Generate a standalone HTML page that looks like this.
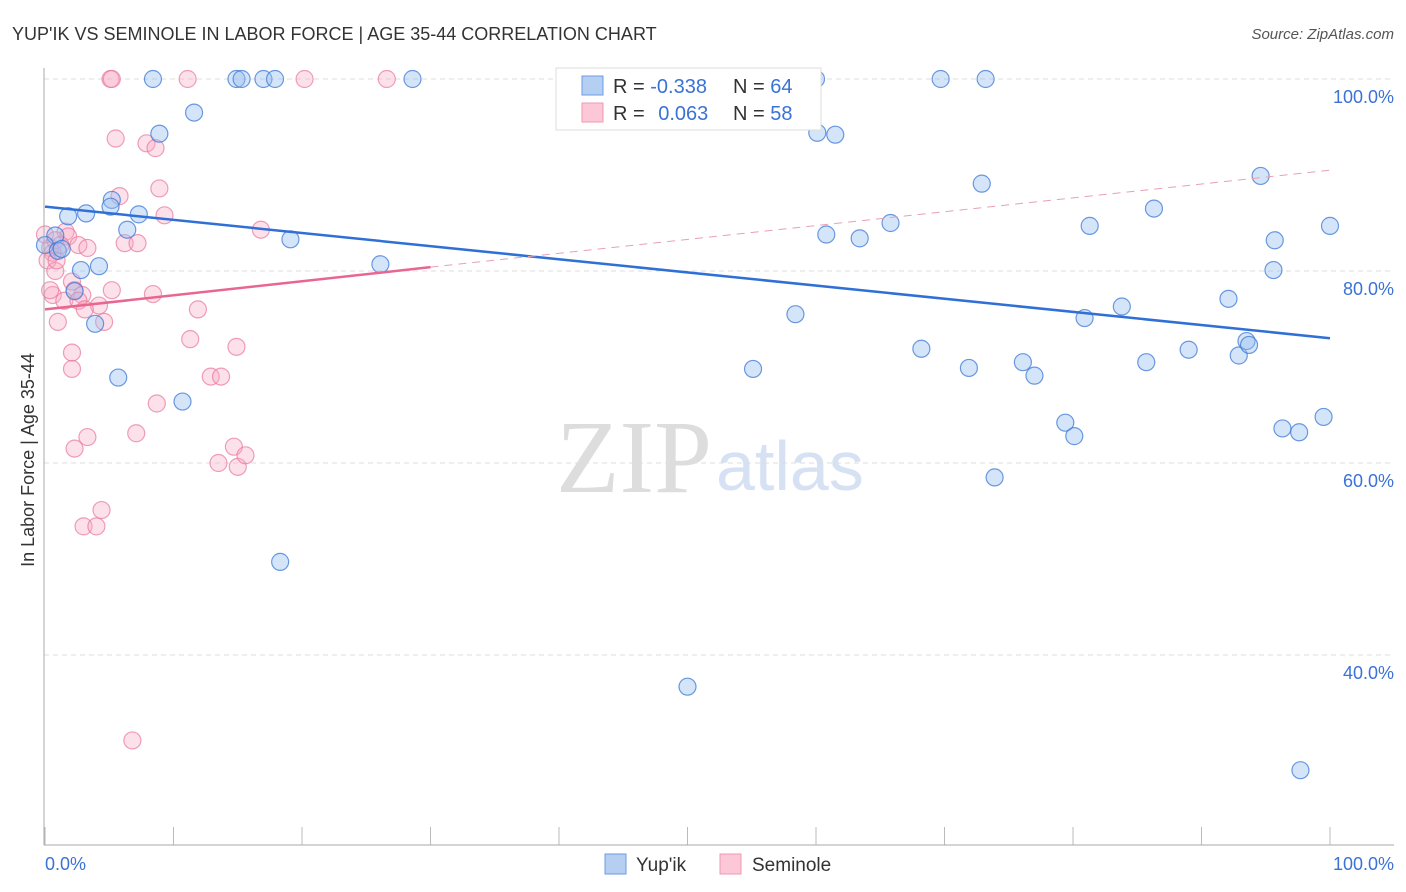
<!DOCTYPE html>
<html><head><meta charset="utf-8"><style>
body{margin:0;background:#fff;font-family:"Liberation Sans",sans-serif;}
svg{display:block}
</style></head><body>
<svg id="c" width="1406" height="892">
<text x="12" y="40" font-size="18" fill="#333">YUP'IK VS SEMINOLE IN LABOR FORCE | AGE 35-44 CORRELATION CHART</text>
<text x="1394" y="39" font-size="15" fill="#555" font-style="italic" text-anchor="end">Source: ZipAtlas.com</text>
<text x="34" y="460" font-size="18" fill="#333" text-anchor="middle" transform="rotate(-90 34 460)">In Labor Force | Age 35-44</text>
<text x="712" y="492" font-size="104" fill="#ddd" text-anchor="end" font-family="Liberation Serif">ZIP</text>
<text x="716" y="490" font-size="70" fill="#d6e2f3">atlas</text>
<g id="grid"></g><g id="pts"></g><g id="lines"></g>
<line x1="44" y1="68" x2="44" y2="845" stroke="#aaa"/>
<line x1="44" y1="845" x2="1394" y2="845" stroke="#aaa"/>
<text x="45" y="870" font-size="18" fill="#3a72d6">0.0%</text>
<text x="1394" y="870" font-size="18" fill="#3a72d6" text-anchor="end">100.0%</text>
<g>
<rect x="556" y="68" width="265" height="62" fill="#fff" stroke="#ddd"/>
<rect x="582" y="76" width="21" height="19" fill="#b5cff3" stroke="#6a9be0"/>
<rect x="582" y="103" width="21" height="19" fill="#fcc7d6" stroke="#ee9ab3"/>
<text x="613" y="93" font-size="20" fill="#333">R = <tspan fill="#3a72d6">-0.338</tspan></text>
<text x="733" y="93" font-size="20" fill="#333">N = <tspan fill="#3a72d6">64</tspan></text>
<text x="613" y="120" font-size="20" fill="#333">R = <tspan fill="#3a72d6" dx="8">0.063</tspan></text>
<text x="733" y="120" font-size="20" fill="#333">N = <tspan fill="#3a72d6">58</tspan></text>
</g>
<g>
<rect x="605" y="854" width="21" height="20" fill="#b5cff3" stroke="#6a9be0"/>
<text x="636" y="871" font-size="19" fill="#333">Yup'ik</text>
<rect x="720" y="854" width="21" height="20" fill="#fcc7d6" stroke="#ee9ab3"/>
<text x="752" y="871" font-size="19" fill="#333">Seminole</text>
</g>
</svg>
<script>
const yTicks=[100,80,60,40];
const yTickLabels=["100.0%","80.0%","60.0%","40.0%"];
const xTicks=[0,10,20,30,40,50,60,70,80,90,100];
const yupikX=[8.4,14.9,15.3,17.0,17.9,28.6,41.6,60.0,69.7,73.2,11.6,8.9,60.1,61.5,5.2,5.1,1.8,3.2,7.3,6.4,19.1,0.8,0,1.0,1.3,4.2,2.8,26.1,2.3,3.9,5.7,10.7,18.3,50.0,72.9,94.6,65.8,60.8,63.4,81.3,86.3,95.7,100,95.6,58.4,80.9,83.8,92.1,68.2,55.1,71.9,76.1,77.0,85.7,89.0,92.9,93.5,93.7,79.4,80.1,96.3,97.6,99.5,73.9,97.7];
const yupikY=[100,100,100,100,100,100,100,100,100,100,96.5,94.3,94.4,94.2,87.4,86.7,85.7,86.0,85.9,84.3,83.3,83.7,82.7,82.1,82.3,80.5,80.1,80.7,77.9,74.5,68.9,66.4,49.7,36.7,89.1,89.9,85.0,83.8,83.4,84.7,86.5,83.2,84.7,80.1,75.5,75.1,76.3,77.1,71.9,69.8,69.9,70.5,69.1,70.5,71.8,71.2,72.7,72.3,64.2,62.8,63.6,63.2,64.8,58.5,28.0];
const semX=[5.1,5.2,11.1,20.2,26.6,5.5,7.9,8.6,8.9,5.8,9.3,16.8,1.6,1.8,2.6,3.3,6.2,7.2,0.4,0.6,0.2,0.8,0.9,2.1,2.3,2.9,0.6,1.5,2.6,4.2,3.1,4.6,1.0,8.4,11.9,5.2,11.3,14.9,2.1,2.1,12.9,13.7,8.7,7.1,3.3,2.3,14.7,13.5,15.0,15.6,4.4,3.0,4.0,6.8,0,0.8,1.2,0.4];
const semY=[100,100,100,100,100,93.8,93.3,92.8,88.6,87.8,85.8,84.3,84.1,83.6,82.7,82.4,82.9,82.9,82.4,81.9,81.1,80.0,81.1,78.9,78.0,77.5,77.5,76.9,76.9,76.4,76.0,74.7,74.7,77.6,76.0,78.0,72.9,72.1,71.5,69.8,69.0,69.0,66.2,63.1,62.7,61.5,61.7,60.0,59.6,60.8,55.1,53.4,53.4,31.1,83.8,83.2,82.7,78.0];
const yupikTrend=[86.7,73.0];
const semTrendSolid=[0,76.0,30,80.4];
const semTrendDash=[100,90.5];
const X=v=>45+v*12.85, Y=v=>1039-v*9.6;
const ns="http://www.w3.org/2000/svg";
function mk(t,a,p){const e=document.createElementNS(ns,t);for(const k in a)e.setAttribute(k,a[k]);p.appendChild(e);return e;}
const g=document.getElementById('grid');
yTicks.forEach((t,i)=>{
 const l=mk('line',{x1:44,x2:1394,y1:Y(t),y2:Y(t),stroke:'#ddd','stroke-dasharray':'5,4'},g);
 
 
 const tx=mk('text',{x:1394,y:Y(t)+24,'font-size':18,fill:'#3a72d6','text-anchor':'end'},g);
 tx.textContent=yTickLabels[i];
 
 
});
xTicks.forEach(t=>{
 const l=mk('line',{x1:X(t),x2:X(t),y1:827,y2:845,stroke:'#bbb'},g);
 
 
});
const p=document.getElementById('pts');
semX.forEach((x,i)=>{
 const c=mk('circle',{cx:X(x),cy:Y(semY[i]),r:8.5,fill:'rgba(248,170,195,0.35)',stroke:'rgba(232,120,155,0.7)','stroke-width':1.2},p);
 
 
});
yupikX.forEach((x,i)=>{
 const c=mk('circle',{cx:X(x),cy:Y(yupikY[i]),r:8.5,fill:'rgba(150,190,240,0.4)',stroke:'rgba(60,120,215,0.75)','stroke-width':1.2},p);
 
 
});
const L=document.getElementById('lines');
let a=mk('line',{x1:X(0),y1:Y(yupikTrend[0]),x2:X(100),y2:Y(yupikTrend[1]),stroke:'#2f6fd6','stroke-width':2.5},L);


a=mk('line',{x1:X(semTrendSolid[0]),y1:Y(semTrendSolid[1]),x2:X(semTrendSolid[2]),y2:Y(semTrendSolid[3]),stroke:'#e8668f','stroke-width':2.5},L);


a=mk('line',{x1:X(semTrendSolid[2]),y1:Y(semTrendSolid[3]),x2:X(semTrendDash[0]),y2:Y(semTrendDash[1]),stroke:'#e8a0b5','stroke-width':1,'stroke-dasharray':'8,6'},L);


</script>
</body></html>
